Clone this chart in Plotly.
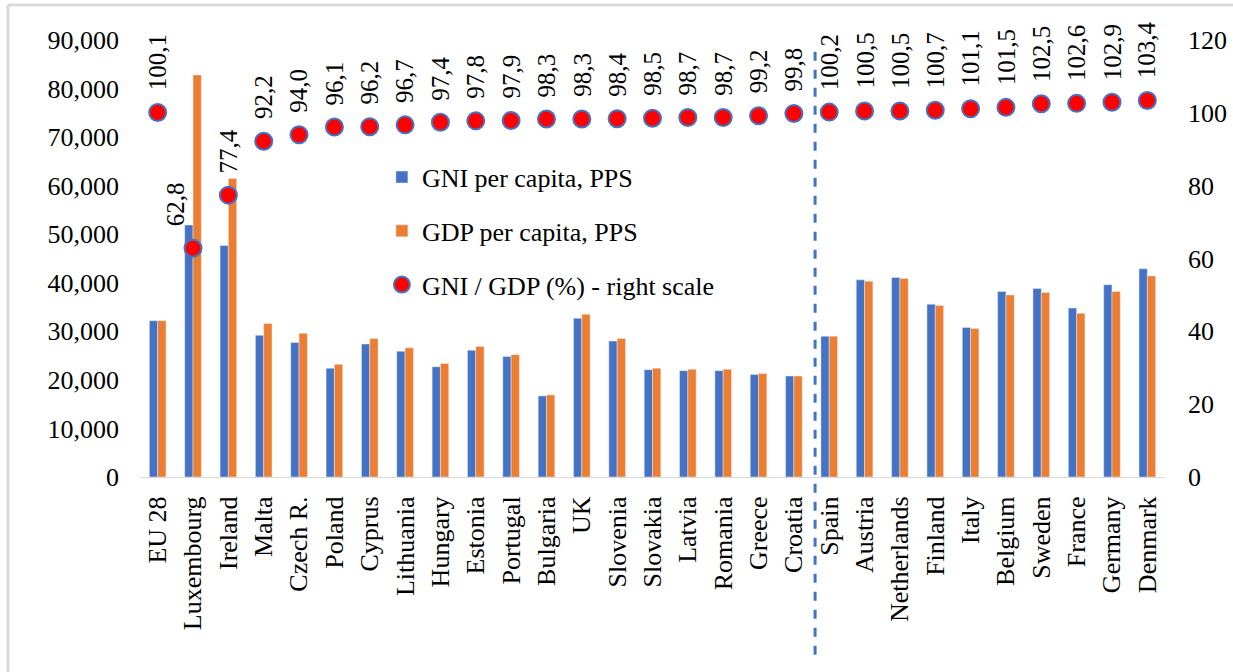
import plotly.graph_objects as go

countries = ["EU 28", "Luxembourg", "Ireland", "Malta", "Czech R.", "Poland", "Cyprus",
             "Lithuania", "Hungary", "Estonia", "Portugal", "Bulgaria", "UK", "Slovenia",
             "Slovakia", "Latvia", "Romania", "Greece", "Croatia", "Spain", "Austria",
             "Netherlands", "Finland", "Italy", "Belgium", "Sweden", "France", "Germany",
             "Denmark"]

gni_pc = [32200, 51900, 47700, 29200, 27700, 22400, 27400, 25900, 22700, 26100, 24800,
          16700, 32700, 28000, 22100, 21900, 21900, 21100, 20800, 29000, 40600, 41100,
          35600, 30800, 38200, 38800, 34800, 39600, 42900]

gdp_pc = [32200, 82800, 61500, 31600, 29600, 23200, 28500, 26600, 23400, 26900, 25200,
          16900, 33500, 28500, 22400, 22200, 22200, 21300, 20800, 29000, 40300, 40900,
          35300, 30600, 37500, 38000, 33700, 38200, 41400]

ratio = [100.1, 62.8, 77.4, 92.2, 94.0, 96.1, 96.2, 96.7, 97.4, 97.8, 97.9, 98.3, 98.3,
         98.4, 98.5, 98.7, 98.7, 99.2, 99.8, 100.2, 100.5, 100.5, 100.7, 101.1, 101.5,
         102.5, 102.6, 102.9, 103.4]

left_ticks = [0, 10000, 20000, 30000, 40000, 50000, 60000, 70000, 80000, 90000]
right_ticks = [0, 20, 40, 60, 80, 100, 120]

FONT = "Liberation Serif"
BLUE = "#4472C4"
ORANGE = "#ED7D31"

fig = go.Figure()
fig.add_trace(go.Bar(x=countries, y=gni_pc, name="GNI per capita, PPS",
                     marker_color=BLUE, legendgroup="a"))
fig.add_trace(go.Bar(x=countries, y=gdp_pc, name="GDP per capita, PPS",
                     marker_color=ORANGE, legendgroup="b"))
fig.add_trace(go.Scatter(x=countries, y=ratio, name="GNI / GDP (%) - right scale",
                         mode="markers", yaxis="y2", legendgroup="c",
                         marker=dict(color="#FF0000", size=17,
                                     line=dict(color=BLUE, width=2))))

annotations = []
for c, r in zip(countries, ratio):
    annotations.append(dict(x=c, y=r, xref="x", yref="y2", text=f"{r:.1f}".replace(".", ","),
                            showarrow=False, textangle=-90, yanchor="bottom",
                            xanchor="center", yshift=20,
                            xshift=-18 if c == "Luxembourg" else 0,
                            font=dict(family=FONT, size=25, color="#000")))

shapes = [
    dict(type="line", xref="x", yref="paper", x0=18.6, x1=18.6, y0=-0.407, y1=0.982,
         line=dict(color=BLUE, width=3, dash="dash")),
    dict(type="line", xref="paper", yref="paper", x0=-0.1288, x1=1.07, y0=1.080, y1=1.080,
         line=dict(color="#D9D9D9", width=3)),
    dict(type="line", xref="paper", yref="paper", x0=-0.1288, x1=-0.1288, y0=1.080, y1=-0.45,
         line=dict(color="#D9D9D9", width=3)),
]

fig.update_layout(
    width=1233, height=672,
    margin=dict(l=140, r=68, t=40, b=195, autoexpand=False),
    paper_bgcolor="white", plot_bgcolor="white",
    font=dict(family=FONT, size=26, color="#000"),
    barmode="group", bargap=0.53, bargroupgap=0,
    showlegend=True,
    legend=dict(x=0.236, y=0.74, xanchor="left", yanchor="top",
                bgcolor="rgba(0,0,0,0)", font=dict(family=FONT, size=26, color="#000"),
                tracegroupgap=17, itemsizing="trace"),
    xaxis=dict(type="category", range=[-0.5, 28.5], tickangle=-90, showline=True,
               linecolor="#D9D9D9", linewidth=1, ticks="", showgrid=False,
               ticklabelstandoff=8, automargin=False,
               tickfont=dict(family=FONT, size=26, color="#000")),
    yaxis=dict(range=[0, 90000], tickvals=left_ticks, tickformat=",", showgrid=False,
               zeroline=False, showline=False, ticks="", ticklabelstandoff=20,
               automargin=False, tickfont=dict(family=FONT, size=26, color="#000")),
    yaxis2=dict(range=[0, 120], tickvals=right_ticks, overlaying="y", side="right",
                showgrid=False, zeroline=False, showline=False, ticks="",
                ticklabelstandoff=22, automargin=False,
                tickfont=dict(family=FONT, size=26, color="#000")),
    annotations=annotations,
    shapes=shapes,
)

fig.write_html("out.html", config={"displayModeBar": False},
               post_script="document.body.style.margin='0';")
